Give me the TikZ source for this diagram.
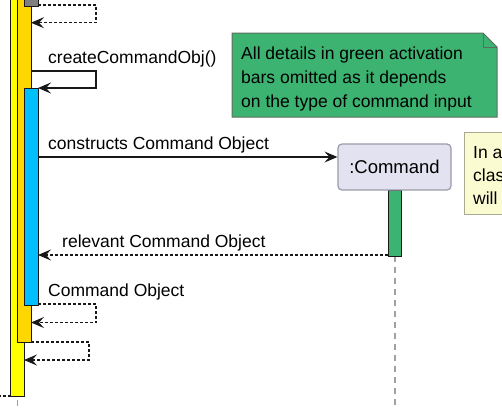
\documentclass[tikz,border=0pt]{standalone}
\usepackage{fontspec}
\setmainfont{Liberation Sans}
\usetikzlibrary{arrows.meta}
\definecolor{linec}{HTML}{181818}
\definecolor{baryellow}{HTML}{FFFF00}
\definecolor{barorange}{HTML}{FFD700}
\definecolor{barblue}{HTML}{00BFFF}
\definecolor{bargrey}{HTML}{808080}
\definecolor{bargreen}{HTML}{3CB371}
\definecolor{cmdfill}{HTML}{E2E2F0}
\definecolor{cmdborder}{HTML}{9A9AAA}
\definecolor{lifec}{HTML}{A0A0A0}
\definecolor{noteyellow}{HTML}{FBFBD2}
\definecolor{noteyborder}{HTML}{AAAA90}
\definecolor{notegborder}{HTML}{5E6E5E}
\tikzset{
  lbl/.style={font=\fontsize{17.5}{21}\selectfont, inner sep=0pt, anchor=base west, text=black},
  actbar/.style={draw=linec, line width=1pt, minimum width=13.5pt, inner sep=0pt},
  msg/.style={draw=linec, line width=1.1pt, -{Stealth[length=13pt,width=11pt,inset=5pt]}},
  ret/.style={msg, dash pattern=on 3pt off 2pt},
  retplain/.style={draw=linec, line width=1.1pt, dash pattern=on 3pt off 2pt},
  lifeline/.style={draw=lifec, line width=1.3pt, dash pattern=on 6pt off 5pt},
}
\begin{document}
\begin{tikzpicture}[x=1pt,y=-1pt]
\useasboundingbox (0,0) rectangle (502,407);
\clip (0,0) rectangle (502,407);
% lifelines
\draw[lifeline] (395,256) -- (395,410);
\draw[lifeline] (17.5,400) -- (17.5,410);
% activation bars
\node[actbar, fill=baryellow, minimum height=400pt] (ybar) at (17.5,196) {};
\node[actbar, fill=barorange, minimum height=346pt] (obar) at (24.25,169) {};
\node[actbar, fill=bargrey, minimum height=10pt] (gbar) at (31.25,1) {};
\node[actbar, fill=barblue, minimum height=217pt] (bbar) at (31.25,196.5) {};
\node[actbar, fill=bargreen, minimum height=66pt] (grbar) at (395,223) {};
% participant
\node[draw=cmdborder, fill=cmdfill, rounded corners=4pt, line width=1.2pt,
      minimum width=113pt, minimum height=46pt, inner sep=0pt,
      font=\fontsize{18.5}{22}\selectfont] (cmd) at (394.5,167) {:Command};
% notes
\draw[draw=notegborder, fill=bargreen, line width=1pt]
  (232,33) -- (483,33) -- (497,47) -- (497,117) -- (232,117) -- cycle;
\draw[draw=notegborder, line width=1pt] (483,33) -- (483,47) -- (497,47);
\node[lbl] (n1) at (241,59) {All details in green activation};
\node[lbl] (n2) at (241,83) {bars omitted as it depends};
\node[lbl] (n3) at (241,107) {on the type of command input};
\draw[draw=noteyborder, fill=noteyellow, line width=1pt] (464,132) rectangle (530,214);
\node[lbl] (y1) at (473,158) {In a};
\node[lbl] (y2) at (473,181) {clas};
\node[lbl] (y3) at (473,204) {will};
% coordinates for messages
\coordinate (r0a) at (38,5);
\coordinate (r0b) at (31,22.7);
\coordinate (s1a) at (31,71);
\coordinate (s1b) at (38,88);
\coordinate (c2a) at (38,157);
\coordinate (r3a) at (388,255);
\coordinate (r3b) at (38,255);
\coordinate (r4a) at (38,304);
\coordinate (r4b) at (31,322.5);
\coordinate (r5a) at (31,342);
\coordinate (r5b) at (24,360);
\coordinate (r6a) at (11,396);
\coordinate (r6b) at (-2,396);
% messages
\draw[ret] (r0a) -- (96,5) -- (96,22.7) -- (r0b);
\node[lbl] (t1) at (48,63) {createCommandObj()};
\draw[msg] (s1a) -- (96,71) -- (96,88) -- (s1b);
\node[lbl] (t2) at (48,149) {constructs Command Object};
\draw[msg] (c2a) -- (cmd.west |- c2a);
\node[lbl] (t3) at (62,247) {relevant Command Object};
\draw[ret] (r3a) -- (r3b);
\node[lbl] (t4) at (48,296) {Command Object};
\draw[ret] (r4a) -- (96,304) -- (96,322.5) -- (r4b);
\draw[ret] (r5a) -- (89,342) -- (89,360) -- (r5b);
\draw[retplain] (r6a) -- (r6b);
\end{tikzpicture}
\end{document}
